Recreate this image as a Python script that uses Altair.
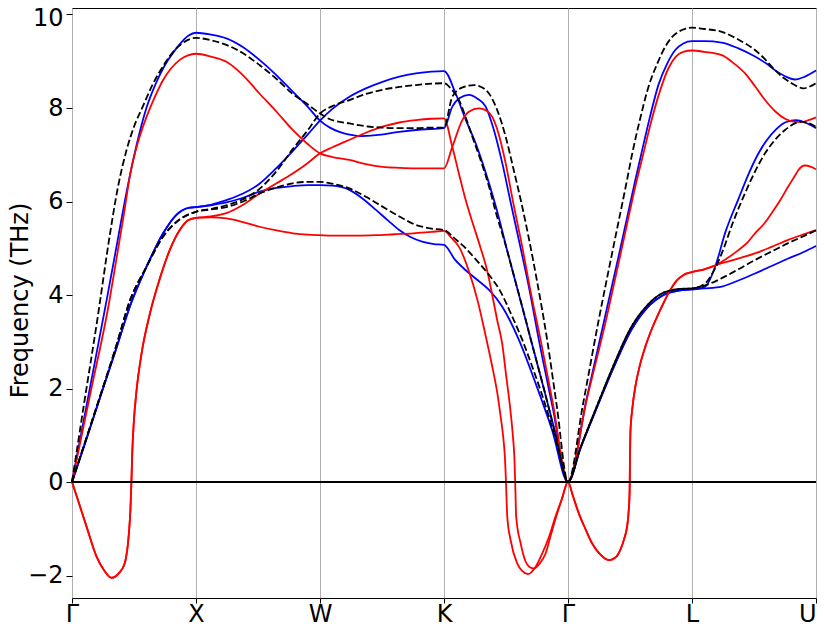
import altair as alt
import pandas as pd

# high-symmetry path labels (one unit per segment)
tick_labels = ["Γ", "X", "W", "K", "Γ", "L", "U"]
tick_pos = [0, 1, 2, 3, 4, 5, 6]
freq_ticks = [-2, 0, 2, 4, 6, 8, 10]

# ---- blue set ----
blue_gx_ta_x = [0, 0.12, 0.225, 0.35, 0.48, 0.6, 0.735, 0.84, 0.95, 1.0]
blue_gx_ta_y = [0, 0.95, 1.8, 2.8, 3.85, 4.6, 5.32, 5.71, 5.87, 5.88]
blue_gl_ta_x = [4.1, 4.234, 4.368, 4.503, 4.636, 4.771, 4.905, 5.0]
blue_gl_ta_y = [0.72, 1.6, 2.45, 3.22, 3.72, 4.0, 4.1, 4.12]

blue_1_x = blue_gx_ta_x + [
    1.12, 1.245, 1.38, 1.512, 1.65, 1.78, 1.9, 2.0,
    2.1, 2.237, 2.35, 2.451, 2.55, 2.639, 2.73, 2.824, 2.92, 3.0,
    3.09, 3.175, 3.27, 3.363, 3.47, 3.604, 3.739, 3.872, 4.0,
] + blue_gl_ta_x + [5.1, 5.24, 5.374, 5.508, 5.642, 5.776, 5.9, 6.0]
blue_1_y = blue_gx_ta_y + [
    5.92, 5.98, 6.08, 6.21, 6.29, 6.33, 6.35, 6.35,
    6.34, 6.25, 6.05, 5.82, 5.59, 5.39, 5.24, 5.14, 5.09, 5.07,
    4.75, 4.53, 4.32, 4.11, 3.75, 3.04, 2.11, 1.11, 0,
] + blue_gl_ta_y + [4.14, 4.18, 4.31, 4.46, 4.62, 4.78, 4.92, 5.05]

blue_2_x = blue_gx_ta_x + [
    1.12, 1.245, 1.38, 1.512, 1.65, 1.78, 1.9, 2.0,
    2.1, 2.237, 2.37, 2.504, 2.64, 2.773, 2.9, 3.0,
    3.094, 3.175, 3.256, 3.35, 3.443, 3.5, 3.6, 3.7, 3.8, 3.9, 4.0,
] + blue_gl_ta_x + [5.106, 5.186, 5.27, 5.374, 5.45, 5.53, 5.6, 5.68, 5.76, 5.84, 5.92, 6.0]
blue_2_y = blue_gx_ta_y + [
    5.93, 6.03, 6.17, 6.38, 6.72, 7.08, 7.43, 7.73,
    7.98, 8.24, 8.42, 8.56, 8.67, 8.74, 8.78, 8.79,
    8.31, 7.75, 7.24, 6.5, 5.65, 5.05, 4.05, 3.05, 2.05, 1.03, 0,
] + blue_gl_ta_y + [4.18, 4.6, 5.35, 6.05, 6.55, 7.0, 7.3, 7.55, 7.7, 7.74, 7.68, 7.57]

blue_3_x = [
    0, 0.14, 0.28, 0.36, 0.44, 0.52, 0.6, 0.68, 0.75, 0.82, 0.88, 0.94, 1.0,
    1.12, 1.245, 1.38, 1.512, 1.65, 1.78, 1.9, 2.0,
    2.08, 2.156, 2.237, 2.317, 2.45, 2.639, 2.82, 3.0,
    3.067, 3.13, 3.202, 3.27, 3.336, 3.40, 3.47, 3.54, 3.61, 3.69, 3.765, 3.88, 4.0,
    4.15, 4.3, 4.42, 4.543, 4.6, 4.66, 4.73, 4.8, 4.865, 4.93, 5.0,
    5.1, 5.24, 5.37, 5.508, 5.6, 5.669, 5.75, 5.83, 5.91, 6.0,
]
blue_3_y = [
    0, 1.95, 3.9, 5.05, 6.2, 7.2, 8.0, 8.55, 8.92, 9.2, 9.4, 9.55, 9.61,
    9.57, 9.49, 9.3, 9.03, 8.7, 8.35, 8.03, 7.73,
    7.58, 7.49, 7.43, 7.4, 7.42, 7.49, 7.54, 7.57,
    8.03, 8.22, 8.28, 8.2, 8.03, 7.55, 6.82, 5.95, 5.1, 4.1, 3.04, 1.55, 0,
    1.78, 3.55, 4.97, 6.46, 7.12, 7.8, 8.5, 8.95, 9.24, 9.38, 9.43,
    9.43, 9.4, 9.28, 9.1, 8.95, 8.81, 8.68, 8.61, 8.67, 8.8,
]

# ---- black dashed set ----
dash_gx_ta_x = [0, 0.12, 0.22, 0.35, 0.47, 0.6, 0.735, 0.87, 1.0]
dash_gx_ta_y = [0, 0.97, 1.78, 2.85, 3.9, 4.6, 5.25, 5.62, 5.78]
dash_gl_ta_x = [4.1, 4.234, 4.368, 4.503, 4.636, 4.771, 4.905, 5.0]
dash_gl_ta_y = [0.73, 1.63, 2.5, 3.28, 3.77, 4.05, 4.13, 4.14]

dash_1_x = dash_gx_ta_x + [
    1.12, 1.245, 1.38, 1.512, 1.65, 1.78, 1.9, 2.0,
    2.1, 2.237, 2.37, 2.504, 2.64, 2.773, 2.9, 3.0,
    3.09, 3.175, 3.27, 3.363, 3.45, 3.55, 3.63, 3.711, 3.78, 3.846, 3.92, 4.0,
] + dash_gl_ta_x + [5.1, 5.24, 5.374, 5.508, 5.642, 5.776, 5.9, 6.0]
dash_1_y = dash_gx_ta_y + [
    5.83, 5.88, 6.0, 6.17, 6.3, 6.39, 6.42, 6.42,
    6.38, 6.28, 6.1, 5.89, 5.68, 5.5, 5.42, 5.39,
    5.2, 5.0, 4.72, 4.43, 4.1, 3.54, 3.05, 2.47, 1.95, 1.4, 0.73, 0,
] + dash_gl_ta_y + [4.2, 4.36, 4.55, 4.75, 4.93, 5.11, 5.26, 5.38]

dash_2_x = dash_gx_ta_x + [
    1.12, 1.245, 1.38, 1.512, 1.65, 1.78, 1.9, 2.0,
    2.1, 2.237, 2.37, 2.504, 2.64, 2.773, 2.9, 3.0,
    3.06, 3.121, 3.175, 3.228, 3.3, 3.363, 3.42, 3.485, 3.56, 3.631, 3.72, 3.81, 3.9, 4.0,
] + dash_gl_ta_x + [5.106, 5.186, 5.24, 5.33, 5.428, 5.51, 5.589, 5.67, 5.75, 5.83, 5.883, 5.94, 6.0]
dash_2_y = dash_gx_ta_y + [
    5.84, 5.92, 6.05, 6.27, 6.65, 7.12, 7.52, 7.88,
    8.04, 8.17, 8.3, 8.39, 8.45, 8.49, 8.52, 8.53,
    8.4, 8.17, 7.8, 7.39, 6.85, 6.32, 5.75, 5.18, 4.45, 3.75, 2.85, 1.95, 1.0, 0,
] + dash_gl_ta_y + [4.25, 4.57, 4.89, 5.55, 6.18, 6.65, 7.03, 7.32, 7.53, 7.67, 7.71, 7.68, 7.6]

dash_3_x = [
    0, 0.1, 0.204, 0.306, 0.37, 0.44, 0.5, 0.574, 0.65, 0.74, 0.829, 0.91, 1.0,
    1.12, 1.245, 1.38, 1.512, 1.65, 1.78, 1.9, 2.0,
    2.08, 2.237, 2.37, 2.504, 2.64, 2.773, 2.9, 3.0,
    3.067, 3.15, 3.242, 3.3, 3.363, 3.43, 3.497, 3.56, 3.63, 3.75, 3.832, 3.91, 4.0,
    4.12, 4.248, 4.36, 4.476, 4.516, 4.58, 4.65, 4.72, 4.784, 4.84, 4.891, 4.95, 5.0,
    5.1, 5.24, 5.37, 5.508, 5.59, 5.669, 5.74, 5.803, 5.85, 5.897, 5.95, 6.0,
]
dash_3_y = [
    0, 1.72, 3.47, 5.3, 6.3, 7.1, 7.6, 8.05, 8.5, 8.92, 9.24, 9.42, 9.5,
    9.45, 9.35, 9.17, 8.92, 8.62, 8.3, 8.08, 7.88,
    7.76, 7.67, 7.61, 7.58, 7.57, 7.57, 7.58, 7.58,
    8.24, 8.44, 8.49, 8.45, 8.31, 7.95, 7.39, 6.7, 5.9, 4.3, 3.04, 1.62, 0,
    1.65, 3.47, 4.95, 6.46, 7.0, 7.75, 8.46, 8.95, 9.31, 9.52, 9.63, 9.7, 9.72,
    9.69, 9.63, 9.47, 9.24, 9.04, 8.81, 8.64, 8.53, 8.46, 8.42, 8.46, 8.53,
]

# ---- red set (negative = imaginary modes) ----
red_gx_ta_x = [0, 0.04, 0.118, 0.199, 0.257, 0.319, 0.378, 0.426, 0.459, 0.471, 0.479,
               0.487, 0.499, 0.521, 0.561, 0.628, 0.708, 0.788, 0.869, 0.936, 1.0]
red_gx_ta_y = [0, -0.32, -0.96, -1.6, -1.88, -2.05, -1.95, -1.73, -1.09, -0.6, 0,
               0.7, 1.3, 1.97, 2.75, 3.6, 4.35, 4.96, 5.39, 5.6, 5.65]
red_gl_ta_x = [4.04, 4.087, 4.14, 4.194, 4.26, 4.328, 4.38, 4.422, 4.455, 4.476, 4.49, 4.497,
               4.499, 4.503, 4.52, 4.543, 4.58, 4.623, 4.68, 4.744, 4.825, 4.88, 4.932, 5.0]
red_gl_ta_y = [-0.3, -0.67, -1.0, -1.31, -1.55, -1.67, -1.62, -1.45, -1.2, -0.96, -0.6, -0.2,
               0.3, 1.05, 1.6, 2.04, 2.5, 2.89, 3.3, 3.68, 4.11, 4.32, 4.43, 4.49]

red_1_x = red_gx_ta_x + [
    1.12, 1.245, 1.38, 1.512, 1.65, 1.78, 1.9, 2.0,
    2.15, 2.3, 2.45, 2.6, 2.75, 2.9, 3.0,
    3.06, 3.121, 3.202, 3.27, 3.33, 3.389, 3.43, 3.457, 3.48, 3.492, 3.5, 3.505,
    3.51, 3.537, 3.59, 3.63, 3.677, 3.73, 3.792, 3.85, 3.899, 3.95, 4.0,
] + red_gl_ta_x + [5.1, 5.24, 5.374, 5.508, 5.642, 5.776, 5.9, 6.0]
red_1_y = red_gx_ta_y + [
    5.66, 5.64, 5.56, 5.46, 5.38, 5.32, 5.29, 5.28,
    5.27, 5.27, 5.28, 5.3, 5.32, 5.35, 5.37,
    5.22, 5.03, 4.5, 3.89, 3.2, 2.47, 1.9, 1.4, 0.9, 0.5, 0, -0.4,
    -0.74, -1.24, -1.74, -1.9, -1.97, -1.85, -1.53, -1.15, -0.74, -0.37, 0,
] + red_gl_ta_y + [4.55, 4.68, 4.78, 4.89, 5.03, 5.18, 5.3, 5.39]

red_2_x = red_gx_ta_x + [
    1.12, 1.245, 1.38, 1.512, 1.65, 1.78, 1.9, 2.0,
    2.1, 2.237, 2.37, 2.504, 2.64, 2.773, 2.9, 3.0,
    3.067, 3.12, 3.175, 3.23, 3.29, 3.35, 3.389, 3.43, 3.47, 3.5,
    3.537, 3.555, 3.568, 3.574, 3.578, 3.582, 3.618, 3.658, 3.69, 3.725,
    3.77, 3.819, 3.86, 3.905, 3.95, 4.0,
] + red_gl_ta_x + [5.1, 5.186, 5.28, 5.374, 5.45, 5.508, 5.58, 5.642, 5.71, 5.776,
                   5.83, 5.857, 5.91, 5.96, 6.0]
red_2_y = red_gx_ta_y + [
    5.68, 5.75, 5.93, 6.17, 6.39, 6.6, 6.82, 7.03,
    7.16, 7.32, 7.47, 7.6, 7.69, 7.74, 7.77, 7.78,
    7.17, 6.6, 6.03, 5.55, 5.05, 4.5, 4.0, 3.45, 2.95, 2.3,
    1.5, 1.0, 0.5, 0, -0.4, -0.74, -1.31, -1.7, -1.82, -1.85,
    -1.75, -1.53, -1.15, -0.74, -0.37, 0,
] + red_gl_ta_y + [4.55, 4.63, 4.78, 4.96, 5.13, 5.32, 5.52, 5.75, 6.02, 6.32,
                   6.55, 6.67, 6.77, 6.74, 6.69]

red_3_x = [
    0, 0.15, 0.3, 0.36, 0.42, 0.467, 0.53, 0.601, 0.67, 0.735, 0.8, 0.869, 0.93, 1.0,
    1.12, 1.245, 1.38, 1.512, 1.65, 1.78, 1.9, 2.0,
    2.1, 2.237, 2.37, 2.504, 2.64, 2.773, 2.9, 3.0,
    3.067, 3.148, 3.2, 3.282, 3.34, 3.389, 3.44, 3.497, 3.56, 3.631, 3.7, 3.779, 3.88, 4.0,
    4.15, 4.31, 4.43, 4.55, 4.61, 4.67, 4.74, 4.81, 4.87, 4.93, 5.0,
    5.1, 5.24, 5.33, 5.428, 5.51, 5.589, 5.67, 5.75, 5.82, 5.883, 5.94, 6.0,
]
red_3_y = [
    0, 1.92, 3.85, 4.8, 5.75, 6.55, 7.25, 7.81, 8.25, 8.6, 8.85, 9.03, 9.12, 9.16,
    9.1, 8.99, 8.7, 8.31, 7.92, 7.53, 7.23, 7.03,
    6.95, 6.89, 6.8, 6.74, 6.72, 6.71, 6.71, 6.71,
    7.17, 7.74, 7.92, 7.99, 7.95, 7.81, 7.45, 6.82, 5.95, 5.03, 4.05, 3.04, 1.65, 0,
    1.75, 3.5, 4.95, 6.4, 7.05, 7.7, 8.35, 8.85, 9.1, 9.2, 9.23,
    9.2, 9.13, 8.97, 8.74, 8.46, 8.17, 7.93, 7.77, 7.71, 7.7, 7.74, 7.8,
]


def bands(pairs):
    frames = []
    for name, xs, ys in pairs:
        frames.append(pd.DataFrame({"x": xs, "y": ys, "band": name, "i": range(len(xs))}))
    return pd.concat(frames, ignore_index=True)


blue_df = bands([("b1", blue_1_x, blue_1_y), ("b2", blue_2_x, blue_2_y), ("b3", blue_3_x, blue_3_y)])
red_df = bands([("r1", red_1_x, red_1_y), ("r2", red_2_x, red_2_y), ("r3", red_3_x, red_3_y)])
dash_df = bands([("d1", dash_1_x, dash_1_y), ("d2", dash_2_x, dash_2_y), ("d3", dash_3_x, dash_3_y)])

label_expr = "[" + ",".join("'%s'" % t for t in tick_labels) + "][datum.value]"

x_enc = alt.X(
    "x:Q",
    scale=alt.Scale(domain=[0, 6], nice=False, zero=False),
    axis=alt.Axis(
        values=tick_pos, labelExpr=label_expr, title=None,
        grid=True, gridColor="#b0b0b0", gridWidth=1,
        domain=False, ticks=True, tickSize=5, tickColor="black",
        labelFontSize=24, labelColor="black", labelPadding=-1, labelFlush=False,
        labelAlign={"condition": {"test": "datum.value >= 6", "value": "right"}, "value": "center"},
    ),
)
y_enc = alt.Y(
    "y:Q",
    scale=alt.Scale(domain=[-2.481, 10.139], nice=False, zero=False),
    axis=alt.Axis(
        values=freq_ticks, title="Frequency (THz)", grid=False,
        domain=False, tickSize=6, tickColor="black",
        labelFontSize=24, labelColor="black", labelPadding=3, labelFlush=False,
        labelOffset={"condition": {"test": "datum.value >= 10", "value": 4}, "value": 0},
        titleFontSize=24, titleFontWeight="normal", titleColor="black",
        titleX=-45, titleY=292, titleBaseline="alphabetic",
    ),
)

blue = alt.Chart(blue_df).mark_line(color="#0000ff", strokeWidth=1.8, interpolate="monotone").encode(
    x=x_enc, y=y_enc, detail="band:N", order="i:Q"
)
red = alt.Chart(red_df).mark_line(color="#ff0000", strokeWidth=1.8, interpolate="monotone").encode(
    x=x_enc, y=y_enc, detail="band:N", order="i:Q"
)
dashed = alt.Chart(dash_df).mark_line(
    color="black", strokeWidth=1.8, strokeDash=[7, 3], interpolate="monotone"
).encode(x=x_enc, y=y_enc, detail="band:N", order="i:Q")

zero = alt.Chart(pd.DataFrame({"y": [0]})).mark_rule(color="black", strokeWidth=1.8).encode(y="y:Q")

# keep the page inside 825x633 (body has 8px margins on each side)
chart = alt.layer(blue, red, dashed, zero).properties(
    width=744,
    height=590,
    padding={"left": 64, "top": 0, "right": 1, "bottom": 27},
    autosize=alt.AutoSizeParams(type="none"),
).configure(font="DejaVu Sans").configure_view(stroke="black", strokeWidth=1)

chart.save("out.html", embed_options={"renderer": "svg", "actions": False})
